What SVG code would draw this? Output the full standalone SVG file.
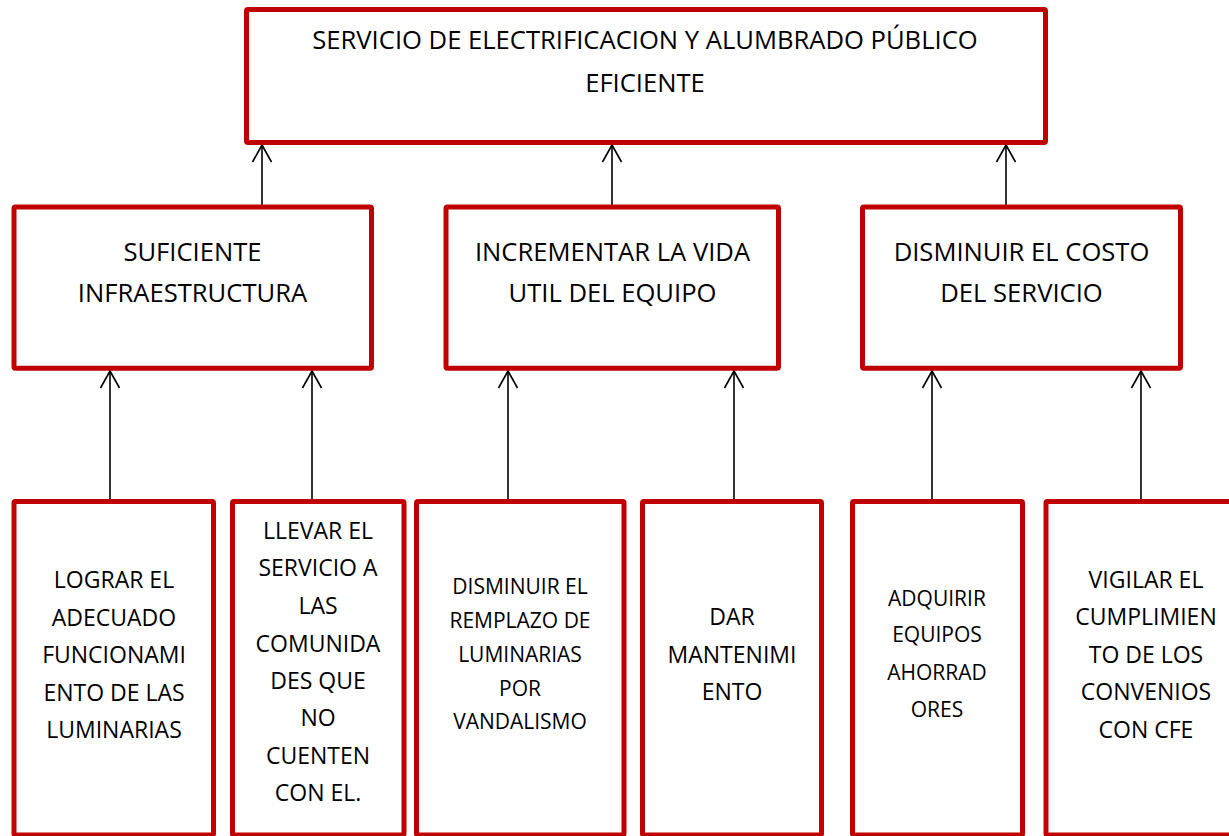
<svg xmlns="http://www.w3.org/2000/svg" width="1229" height="836" viewBox="0 0 1229 836">
<style>
.box{fill:#fff;stroke:#C00000;stroke-width:5}
.t{font-family:"Open Sans","Noto Sans",sans-serif;fill:#000;text-anchor:middle}
.l{font-size:25.6px}
.m{font-size:23px}
.s{font-size:21px}
.c{stroke:#000;stroke-width:1.6;fill:none}
</style>
<defs>
<marker id="ah" markerUnits="userSpaceOnUse" markerWidth="24" markerHeight="24" refX="0" refY="0" viewBox="-20 -12 24 24" orient="auto" overflow="visible">
<path d="M-17,-9.5 L0,0 L-17,9.5" fill="none" stroke="#000" stroke-width="1.6"/>
</marker>
</defs>
<rect width="1229" height="836" fill="#fff"/>
<g id="connectors">
<line class="c" x1="262" y1="205" x2="262" y2="145" marker-end="url(#ah)"/>
<line class="c" x1="612" y1="205" x2="612" y2="145" marker-end="url(#ah)"/>
<line class="c" x1="1006" y1="205" x2="1006" y2="145" marker-end="url(#ah)"/>
<line class="c" x1="110" y1="500" x2="110" y2="371" marker-end="url(#ah)"/>
<line class="c" x1="312" y1="500" x2="312" y2="371" marker-end="url(#ah)"/>
<line class="c" x1="508" y1="500" x2="508" y2="371" marker-end="url(#ah)"/>
<line class="c" x1="734" y1="500" x2="734" y2="371" marker-end="url(#ah)"/>
<line class="c" x1="932" y1="500" x2="932" y2="371" marker-end="url(#ah)"/>
<line class="c" x1="1141" y1="500" x2="1141" y2="371" marker-end="url(#ah)"/>
</g>
<g id="top">
<rect class="box" x="246.5" y="9.5" width="799" height="133" rx="1.5"/>
<text class="t l" x="645" y="49">SERVICIO DE ELECTRIFICACION Y ALUMBRADO PÚBLICO</text>
<text class="t l" x="645" y="92">EFICIENTE</text>
</g>
<g id="infra">
<rect class="box" x="14" y="207" width="357.5" height="161.3" rx="1.5"/>
<text class="t l" x="192.5" y="261">SUFICIENTE</text>
<text class="t l" x="192.5" y="302">INFRAESTRUCTURA</text>
</g>
<g id="vida">
<rect class="box" x="446" y="207" width="332.5" height="161.3" rx="1.5"/>
<text class="t l" x="612.5" y="261">INCREMENTAR LA VIDA</text>
<text class="t l" x="612.5" y="302">UTIL DEL EQUIPO</text>
</g>
<g id="costo">
<rect class="box" x="862.5" y="207" width="318" height="161.3" rx="1.5"/>
<text class="t l" x="1021.5" y="261">DISMINUIR EL COSTO</text>
<text class="t l" x="1021.5" y="302">DEL SERVICIO</text>
</g>
<g id="lograr">
<rect class="box" x="14" y="501.5" width="199.5" height="333.5" rx="1.5"/>
<text class="t m" x="114" y="588">LOGRAR EL</text>
<text class="t m" x="114" y="626">ADECUADO</text>
<text class="t m" x="114" y="663">FUNCIONAMI</text>
<text class="t m" x="114" y="701">ENTO DE LAS</text>
<text class="t m" x="114" y="738">LUMINARIAS</text>
</g>
<g id="llevar">
<rect class="box" x="232.5" y="501.5" width="171.5" height="333.5" rx="1.5"/>
<text class="t m" x="318" y="539">LLEVAR EL</text>
<text class="t m" x="318" y="576">SERVICIO A</text>
<text class="t m" x="318" y="614">LAS</text>
<text class="t m" x="318" y="652">COMUNIDA</text>
<text class="t m" x="318" y="689">DES QUE</text>
<text class="t m" x="318" y="726">NO</text>
<text class="t m" x="318" y="764">CUENTEN</text>
<text class="t m" x="318" y="801">CON EL.</text>
</g>
<g id="remplazo">
<rect class="box" x="416.5" y="501.5" width="207.5" height="333.5" rx="1.5"/>
<text class="t s" x="520" y="594">DISMINUIR EL</text>
<text class="t s" x="520" y="628">REMPLAZO DE</text>
<text class="t s" x="520" y="662">LUMINARIAS</text>
<text class="t s" x="520" y="696">POR</text>
<text class="t s" x="520" y="729">VANDALISMO</text>
</g>
<g id="mantenimiento">
<rect class="box" x="642.5" y="501.5" width="179" height="333.5" rx="1.5"/>
<text class="t m" x="732" y="625">DAR</text>
<text class="t m" x="732" y="663">MANTENIMI</text>
<text class="t m" x="732" y="700">ENTO</text>
</g>
<g id="adquirir">
<rect class="box" x="852.5" y="501.5" width="170" height="333.5" rx="1.5"/>
<text class="t s" x="937" y="606">ADQUIRIR</text>
<text class="t s" x="937" y="642">EQUIPOS</text>
<text class="t s" x="937" y="680">AHORRAD</text>
<text class="t s" x="937" y="717">ORES</text>
</g>
<g id="vigilar">
<rect class="box" x="1046" y="501.5" width="204" height="333.5" rx="1.5"/>
<text class="t m" x="1146" y="588">VIGILAR EL</text>
<text class="t m" x="1146" y="625">CUMPLIMIEN</text>
<text class="t m" x="1146" y="663">TO DE LOS</text>
<text class="t m" x="1146" y="700">CONVENIOS</text>
<text class="t m" x="1146" y="738">CON CFE</text>
</g>
</svg>
